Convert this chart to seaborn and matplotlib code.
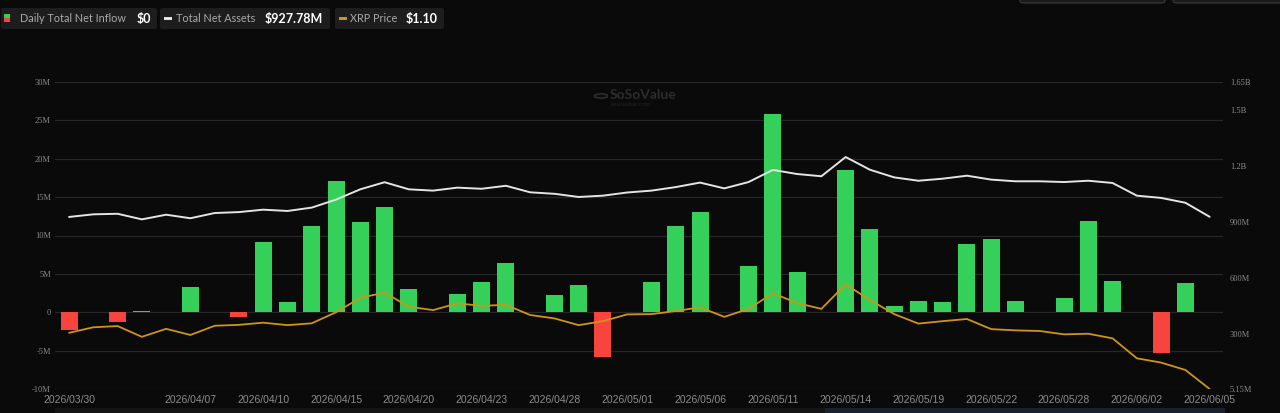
import matplotlib
matplotlib.use("Agg")
import numpy as np
import pandas as pd
import matplotlib.pyplot as plt
from matplotlib.patches import FancyBboxPatch, Rectangle, RegularPolygon
import seaborn as sns

# trading days shown on the chart
dates = [
    "2026/03/30", "2026/03/31", "2026/04/01", "2026/04/02", "2026/04/06", "2026/04/07",
    "2026/04/08", "2026/04/09", "2026/04/10", "2026/04/13", "2026/04/14", "2026/04/15",
    "2026/04/16", "2026/04/17", "2026/04/20", "2026/04/21", "2026/04/22", "2026/04/23",
    "2026/04/24", "2026/04/27", "2026/04/28", "2026/04/29", "2026/04/30", "2026/05/01",
    "2026/05/04", "2026/05/05", "2026/05/06", "2026/05/07", "2026/05/08", "2026/05/11",
    "2026/05/12", "2026/05/13", "2026/05/14", "2026/05/15", "2026/05/18", "2026/05/19",
    "2026/05/20", "2026/05/21", "2026/05/22", "2026/05/26", "2026/05/27", "2026/05/28",
    "2026/05/29", "2026/06/01", "2026/06/02", "2026/06/03", "2026/06/04", "2026/06/05",
]

# daily total net inflow, millions USD
inflow_m = [
    -2.3, 0, -1.3, 0.1, 0, 3.3, 0, -0.6, 9.1, 1.4, 11.2, 17.1,
    11.8, 13.7, 3.0, 0, 2.4, 3.9, 6.4, 0, 2.2, 3.6, -5.8, 0,
    3.9, 11.3, 13.0, 0, 6.0, 25.8, 5.3, 0, 18.5, 10.9, 0.8, 1.45,
    1.4, 8.9, 9.5, 1.5, 0, 1.8, 11.9, 4.1, 0, -5.3, 3.8, 0,
]

# total net assets, millions USD
net_assets_m = [
    927, 941, 944, 914, 939, 920, 948, 953, 966, 959, 977, 1020,
    1075, 1113, 1075, 1068, 1084, 1078, 1094, 1059, 1051, 1034, 1041, 1058,
    1068, 1087, 1111, 1080, 1114, 1179, 1157, 1145, 1248, 1180, 1139, 1121,
    1132, 1148, 1127, 1118, 1118, 1114, 1121, 1109, 1041, 1029, 1003, 927.78,
]

# XRP price, USD
xrp_price = [
    1.283, 1.301, 1.305, 1.270, 1.296, 1.276, 1.306, 1.309, 1.316, 1.308, 1.314, 1.350,
    1.397, 1.414, 1.368, 1.357, 1.379, 1.371, 1.374, 1.341, 1.330, 1.308, 1.321, 1.343,
    1.344, 1.354, 1.366, 1.335, 1.361, 1.412, 1.380, 1.361, 1.441, 1.390, 1.344, 1.313,
    1.321, 1.328, 1.295, 1.291, 1.289, 1.278, 1.280, 1.265, 1.200, 1.186, 1.162, 1.100,
]

tick_dates = [
    "2026/03/30", "2026/04/07", "2026/04/10", "2026/04/15", "2026/04/20", "2026/04/23",
    "2026/04/28", "2026/05/01", "2026/05/06", "2026/05/11", "2026/05/14", "2026/05/19",
    "2026/05/22", "2026/05/28", "2026/06/02", "2026/06/05",
]
left_ticks = [-10, -5, 0, 5, 10, 15, 20, 25, 30]
left_labels = ["-10M", "-5M", "0", "5M", "10M", "15M", "20M", "25M", "30M"]
right_ticks = [5.15, 300, 600, 900, 1200, 1500, 1650]
right_labels = ["5.15M", "300M", "600M", "900M", "1.2B", "1.5B", "1.65B"]

BG = "#0a0a0a"
GREEN = "#34d05a"
RED = "#f7453d"
WHITE_LINE = "#e4e4e4"
ORANGE = "#cf9417"
TICK = "#8c8c8c"
W, H = 1280, 413

sns.set_theme(style="dark", rc={"figure.facecolor": BG, "axes.facecolor": BG})
plt.rcParams["font.family"] = ["Lato", "DejaVu Sans"]

df = pd.DataFrame({"date": dates, "inflow": inflow_m})
df["direction"] = np.where(df["inflow"] < 0, "out", "in")

fig = plt.figure(figsize=(W / 100, H / 100), dpi=100)
ax = fig.add_axes([55 / W, 24 / H, 1168 / W, 307 / H])

sns.barplot(data=df, x="date", y="inflow", hue="direction",
            palette={"in": GREEN, "out": RED}, dodge=False, width=0.7,
            saturation=1, legend=False, ax=ax, order=dates,
            linewidth=0, edgecolor="none")

ax.set_ylim(-10, 30)
ax.set_yticks(left_ticks)
ax.set_yticklabels(left_labels)
ax.set_xticks([dates.index(d) for d in tick_dates])
ax.set_xticklabels(tick_dates)
ax.set_xlabel("")
ax.set_ylabel("")
ax.yaxis.grid(True, color="#262626", lw=0.9)
ax.xaxis.grid(False)
ax.set_axisbelow(True)
ax.tick_params(axis="x", length=0, pad=4, colors=TICK, labelsize=7.5)
ax.tick_params(axis="y", length=0, pad=3, colors=TICK, labelsize=6)
for lbl in ax.get_xticklabels():
    lbl.set_family("Liberation Sans")
for lbl in ax.get_yticklabels():
    lbl.set_family("Liberation Serif")

# total net assets on the right axis
ax2 = ax.twinx()
sns.lineplot(x=np.arange(len(dates)), y=net_assets_m, ax=ax2, color=WHITE_LINE, lw=1.4)
ax2.set_ylim(5.15, 1650)
ax2.set_yticks(right_ticks)
ax2.set_yticklabels(right_labels)
ax2.tick_params(axis="y", length=0, pad=5, colors=TICK, labelsize=6)
for lbl in ax2.get_yticklabels():
    lbl.set_family("Liberation Serif")
ax2.grid(False)

# XRP price on a hidden axis
ax3 = ax.twinx()
sns.lineplot(x=np.arange(len(dates)), y=xrp_price, ax=ax3, color=ORANGE, lw=1.3)
ax3.set_ylim(1.10, 2.10)
ax3.axis("off")

for a in (ax, ax2, ax3):
    for s in a.spines.values():
        s.set_visible(False)
ax.set_xlim(-0.58, len(dates) - 0.45)


def fx(x):
    return x / W


def fy(y):
    return 1 - y / H


# legend chips
chips = [
    (1, 157, "Daily Total Net Inflow", "$0", 20, 137),
    (160, 330, "Total Net Assets", "$927.78M", 176, 265),
    (335, 444, "XRP Price", "$1.10", 350, 406),
]
for x0, x1, label, value, tx, vx in chips:
    fig.patches.append(FancyBboxPatch((fx(x0), fy(29)), fx(x1 - x0), 21 / H,
                                      boxstyle="round,pad=0,rounding_size=0.003",
                                      transform=fig.transFigure, facecolor="#1d1d1d",
                                      edgecolor="none"))
    fig.text(fx(tx), fy(18.5), label, color="#a9a9a9", fontsize=7.8, va="center")
    fig.text(fx(vx), fy(18.5), value, color="white", fontsize=9, weight="bold", va="center")

fig.patches.append(Rectangle((fx(4), fy(18)), fx(6), 4 / H, transform=fig.transFigure,
                             facecolor=GREEN, edgecolor="none"))
fig.patches.append(Rectangle((fx(4), fy(22)), fx(6), 4 / H, transform=fig.transFigure,
                             facecolor=RED, edgecolor="none"))
fig.patches.append(Rectangle((fx(164), fy(20)), fx(8), 3 / H, transform=fig.transFigure,
                             facecolor=WHITE_LINE, edgecolor="none"))
fig.patches.append(Rectangle((fx(339), fy(20)), fx(8), 3 / H, transform=fig.transFigure,
                             facecolor=ORANGE, edgecolor="none"))

# cut-off buttons at the top right
for x0, x1 in [(1020, 1165), (1173, 1290)]:
    fig.patches.append(FancyBboxPatch((fx(x0), fy(3)), fx(x1 - x0), 12 / H,
                                      boxstyle="round,pad=0,rounding_size=0.004",
                                      transform=fig.transFigure, facecolor="#1a1a1a",
                                      edgecolor="#3a3a3a", lw=0.8))

# range slider strip at the bottom
fig.patches.append(Rectangle((fx(55), 0), fx(1168), 5 / H, transform=fig.transFigure,
                             facecolor="#141414", edgecolor="none"))
fig.patches.append(Rectangle((fx(825), 0), fx(400), 5 / H, transform=fig.transFigure,
                             facecolor="#18212e", edgecolor="none"))

# watermark
fig.patches.append(RegularPolygon((fx(601), fy(96)), 6, radius=0.0055,
                                  transform=fig.transFigure, facecolor="none",
                                  edgecolor="#2c2c2c", lw=1.2))
fig.text(fx(610), fy(95), "SoSoValue", color="#2c2c2c", fontsize=10, weight="bold", va="center")
fig.text(fx(611), fy(104), "sosovalue.com", color="#242424", fontsize=4.5, va="center")

fig.savefig("out.png", dpi=100, facecolor=BG)
